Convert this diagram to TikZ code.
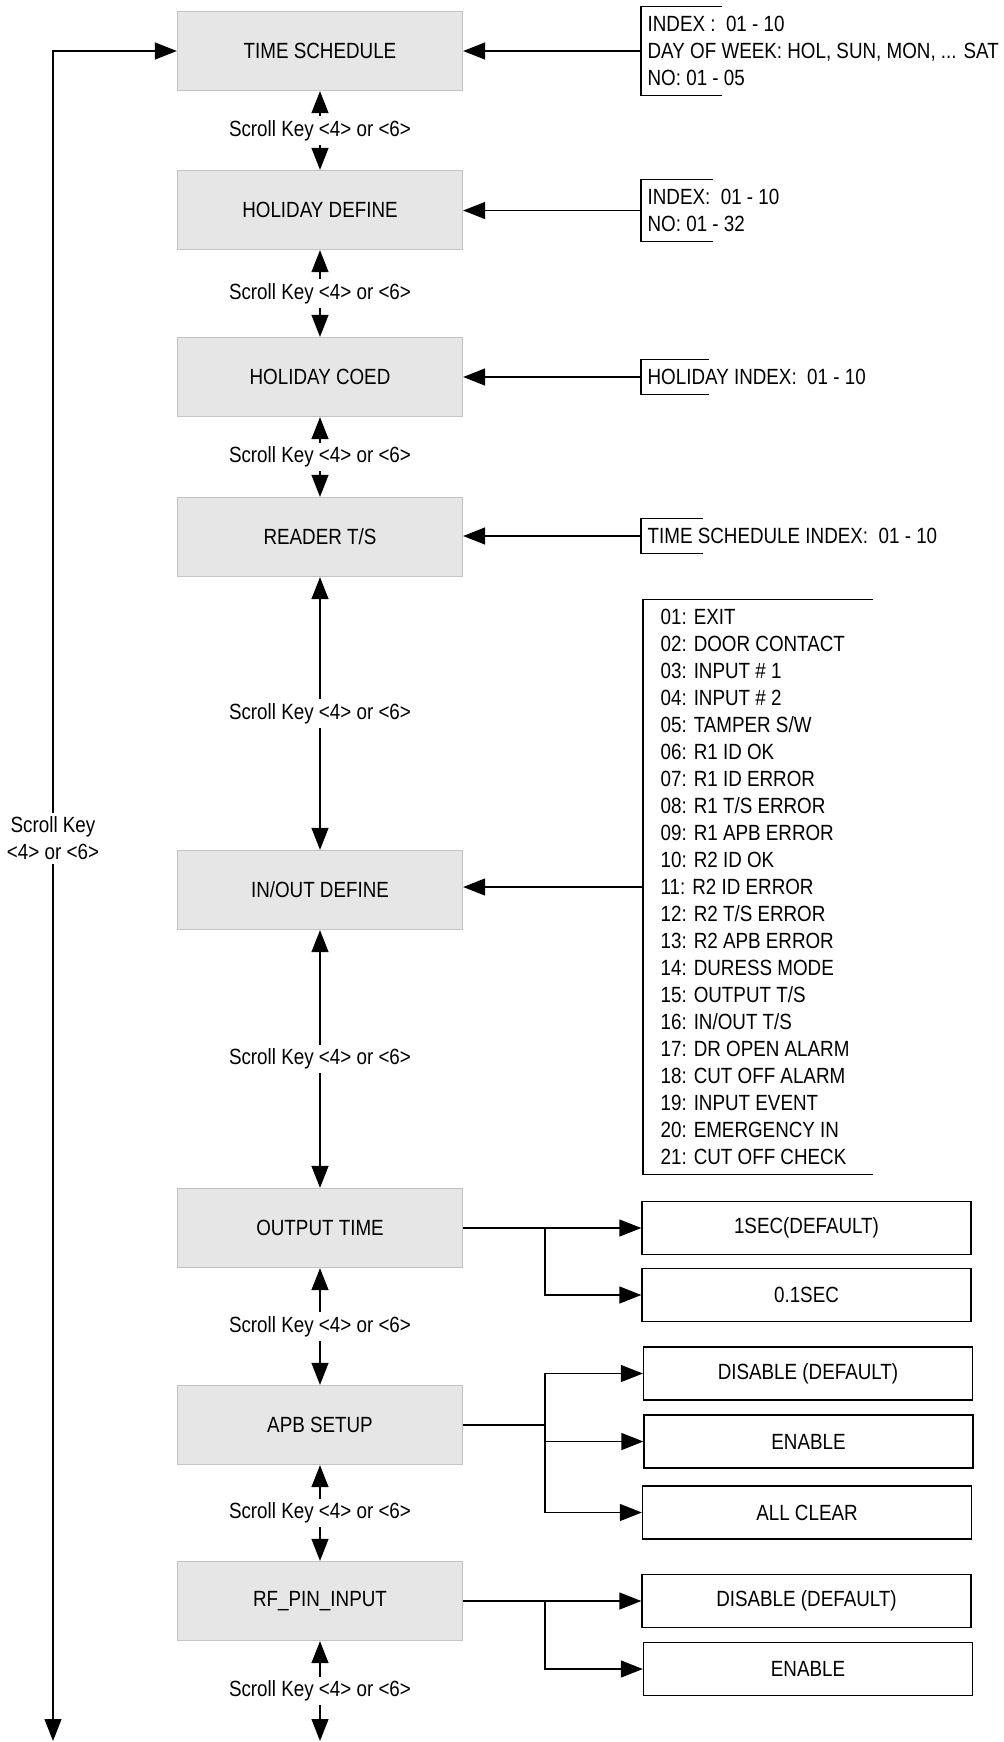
\documentclass[tikz,border=0pt]{standalone}
\usepackage{fontspec}
\setmainfont{Liberation Sans}[FakeStretch=0.855]
\usetikzlibrary{arrows.meta}
\definecolor{boxfill}{HTML}{E6E6E6}
\definecolor{boxline}{HTML}{C3C3C3}

\begin{document}
\begin{tikzpicture}[x=0.5pt, y=-0.5pt, line width=0.65pt,
		font=\fontsize{11}{13.5}\selectfont,
		menu/.style={draw=boxline, fill=boxfill, minimum width=142.5pt, minimum height=39.5pt, inner sep=0pt},
		choice/.style={draw, minimum width=164.5pt, minimum height=26.5pt, inner sep=0pt},
		memo/.style={anchor=west, align=left, inner xsep=3pt, inner ysep=4.5pt},
		scroll/.style={fill=white, inner xsep=1pt, inner ysep=2pt},
		tip/.style={-{Triangle[length=11pt, width=8.5pt]}},
		both/.style={{Triangle[length=11pt, width=8.5pt]}-{Triangle[length=11pt, width=8.5pt]}}]
	\useasboundingbox (0,0) rectangle (1003,1742);
	
	\node[menu] (tsched) at (320,51) {TIME SCHEDULE};
	\node[menu] (hdef) at (320,210) {HOLIDAY DEFINE};
	\node[menu] (hcoed) at (320,377) {HOLIDAY COED};
	\node[menu] (rdts) at (320,537) {READER T/S};
	\node[menu] (inout) at (320,890) {IN/OUT DEFINE};
	\node[menu] (outtime) at (320,1228) {OUTPUT TIME};
	\node[menu] (apb) at (320,1425) {APB SETUP};
	\node[menu] (rfpin) at (320,1601) {RF\_PIN\_INPUT};
	
	\coordinate (mainbot) at (320,1741);
	\coordinate (loopbot) at (53,1741);
	\coordinate (looptop) at (53,0 |- tsched.west);
	
	\draw[both] (tsched.south) -- node[scroll] {Scroll Key <4> or <6>} (hdef.north);
	\draw[both] (hdef.south) -- node[scroll] {Scroll Key <4> or <6>} (hcoed.north);
	\draw[both] (hcoed.south) -- node[scroll] {Scroll Key <4> or <6>} (rdts.north);
	\draw[both] (rdts.south) -- node[scroll] {Scroll Key <4> or <6>} (inout.north);
	\draw[both] (inout.south) -- node[scroll] {Scroll Key <4> or <6>} (outtime.north);
	\draw[both] (outtime.south) -- node[scroll] {Scroll Key <4> or <6>} (apb.north);
	\draw[both] (apb.south) -- node[scroll] {Scroll Key <4> or <6>} (rfpin.north);
	\draw[both] (rfpin.south) -- node[scroll] {Scroll Key <4> or <6>} (mainbot);
	
	\draw[both] (loopbot) -- node[scroll, align=center, pos=0.534] (looplabel) {Scroll Key\\<4> or <6>} (looptop) -- (tsched.west);
	
	\node[memo] (tsnote) at (641,51) {INDEX : \ 01 - 10\\DAY OF WEEK: HOL, SUN, MON, ... SAT\\NO: 01 - 05};
	\draw (tsnote.north west) ++(81,0) -- (tsnote.north west) -- (tsnote.south west) -- ++(81,0);
	\draw[tip] (tsnote.west) -- (tsnote.west -| tsched.east);
	
	\node[memo] (hdnote) at (641,210.5) {INDEX: \ 01 - 10\\NO: 01 - 32};
	\draw (hdnote.north west) ++(72,0) -- (hdnote.north west) -- (hdnote.south west) -- ++(72,0);
	\draw[tip] (hdnote.west) -- (hdnote.west -| hdef.east);
	
	\node[memo] (hcnote) at (641,377) {HOLIDAY INDEX: \ 01 - 10};
	\draw (hcnote.north west) ++(68,0) -- (hcnote.north west) -- (hcnote.south west) -- ++(68,0);
	\draw[tip] (hcnote.west) -- (hcnote.west -| hcoed.east);
	
	\node[memo] (rdnote) at (641,536) {TIME SCHEDULE INDEX: \ 01 - 10};
	\draw (rdnote.north west) ++(62,0) -- (rdnote.north west) -- (rdnote.south west) -- ++(62,0);
	\draw[tip] (rdnote.west) -- (rdnote.west -| rdts.east);
	
	\node[memo, inner xsep=8.5pt] (ionote) at (643,887) {01: EXIT\\02: DOOR CONTACT\\03: INPUT \# 1\\04: INPUT \# 2\\05: TAMPER S/W\\06: R1 ID OK\\07: R1 ID ERROR\\08: R1 T/S ERROR\\09: R1 APB ERROR\\10: R2 ID OK\\11: R2 ID ERROR\\12: R2 T/S ERROR\\13: R2 APB ERROR\\14: DURESS MODE\\15: OUTPUT T/S\\16: IN/OUT T/S\\17: DR OPEN ALARM\\18: CUT OFF ALARM\\19: INPUT EVENT\\20: EMERGENCY IN\\21: CUT OFF CHECK};
	\draw (ionote.north west) ++(230,0) -- (ionote.north west) -- (ionote.south west) -- ++(230,0);
	\draw[tip] (ionote.west) -- (ionote.west -| inout.east);
	
	\node[choice] (sec1) at (806.5,1228) {1SEC(DEFAULT)};
	\node[choice] (sec01) at (806.5,1295) {0.1SEC};
	\coordinate (jout) at (545,0 |- outtime.east);
	\draw[tip] (outtime.east) -- (sec1.west);
	\draw[tip] (jout) |- (sec01.west);
	
	\node[choice] (apbdis) at (808,1373.5) {DISABLE (DEFAULT)};
	\node[choice] (apben) at (808.5,1441.5) {ENABLE};
	\node[choice] (apbclr) at (807,1512.5) {ALL CLEAR};
	\coordinate (japb) at (545,0 |- apb.east);
	\draw (apb.east) -- (japb);
	\draw[tip] (japb) |- (apbdis.west);
	\draw[tip] (japb) |- (apbclr.west);
	\draw[tip] (japb |- apben.west) -- (apben.west);
	
	\node[choice] (rfdis) at (806.5,1601) {DISABLE (DEFAULT)};
	\node[choice] (rfen) at (808,1669) {ENABLE};
	\coordinate (jrf) at (545,0 |- rfpin.east);
	\draw[tip] (rfpin.east) -- (rfdis.west);
	\draw[tip] (jrf) |- (rfen.west);
\end{tikzpicture}
\end{document}
